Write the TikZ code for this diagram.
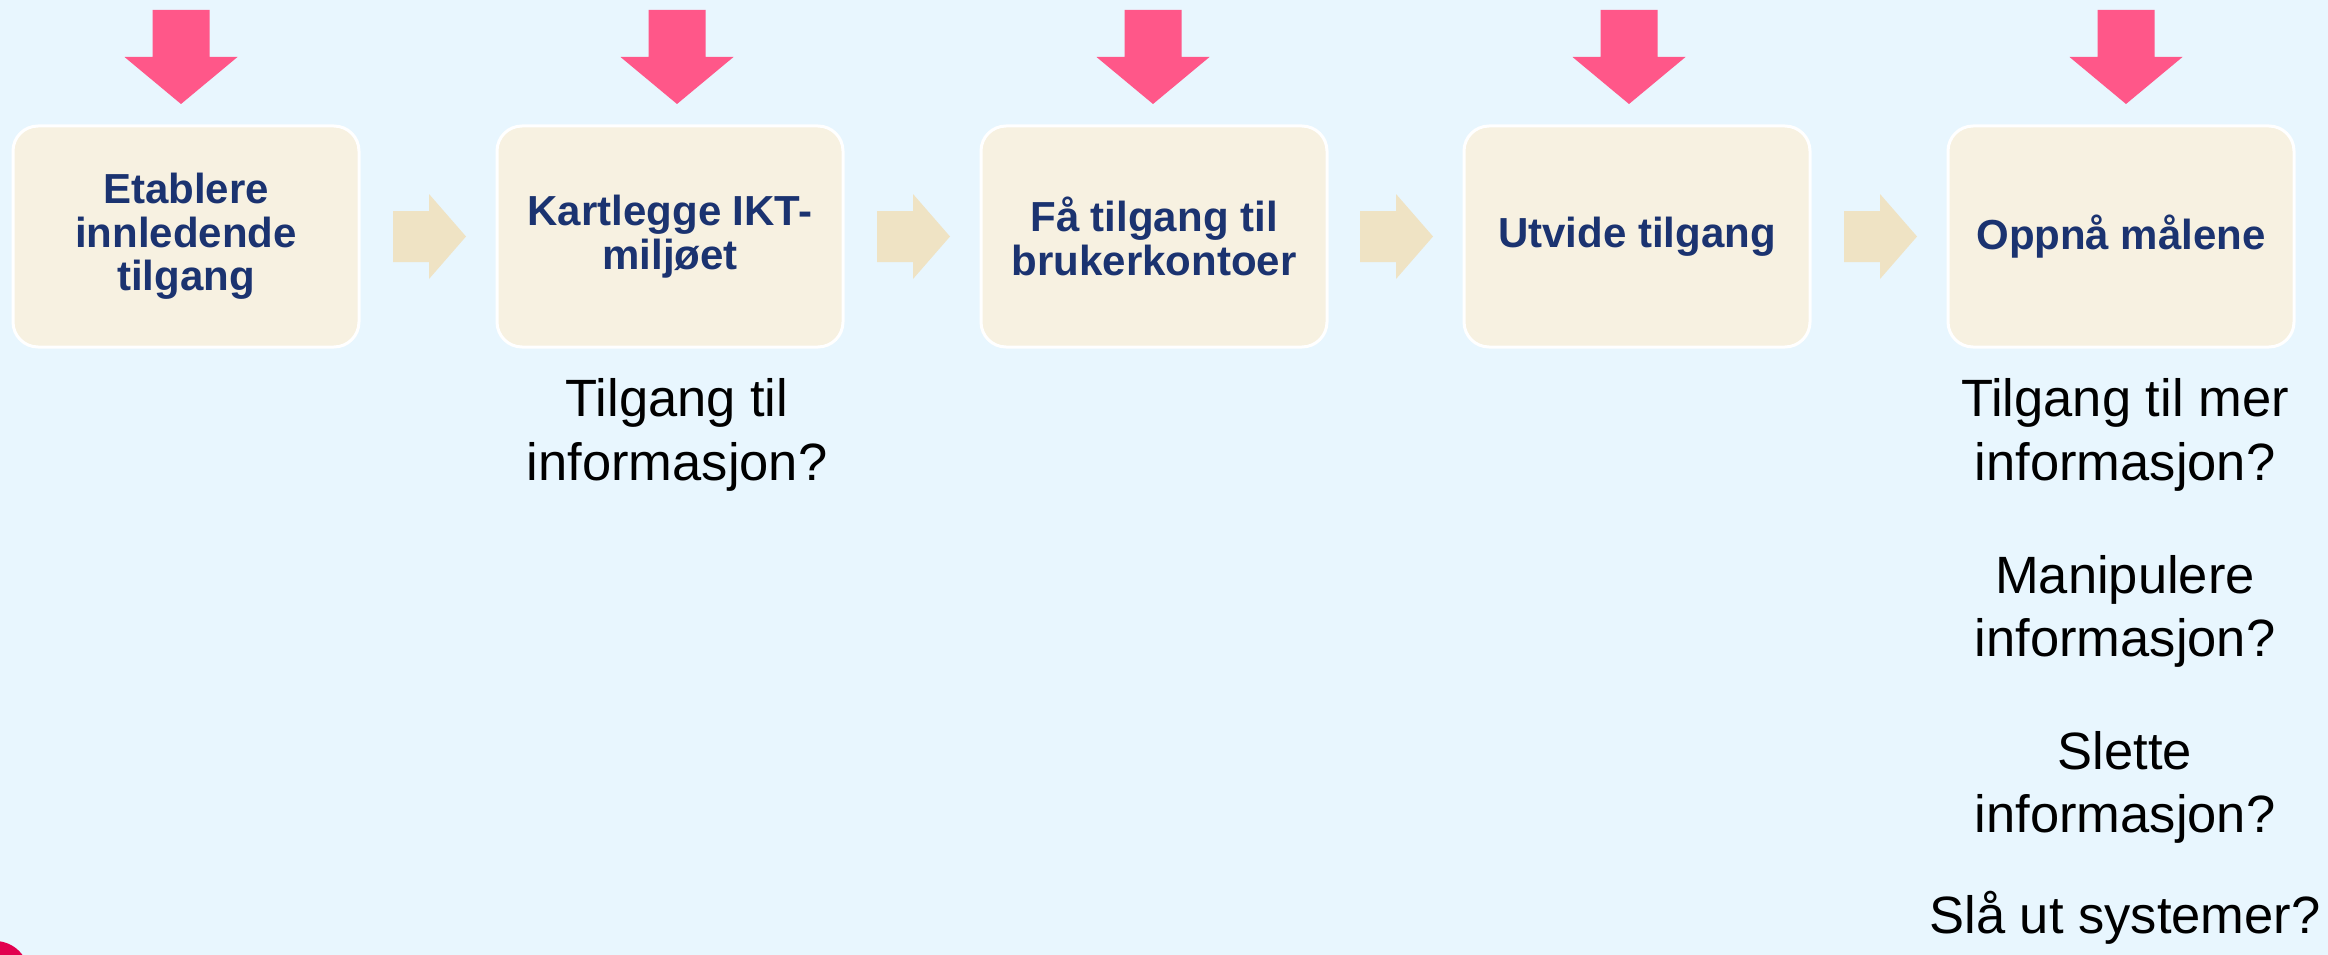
\documentclass[tikz,border=0pt]{standalone}
\usepackage{fontspec}
\setmainfont{Liberation Sans}
\definecolor{bgc}{RGB}{232,246,254}
\definecolor{boxc}{RGB}{247,241,225}
\definecolor{chevc}{RGB}{239,227,196}
\definecolor{pinkc}{RGB}{255,87,137}
\definecolor{titlec}{RGB}{27,51,112}
\definecolor{dotc}{RGB}{226,0,79}
\tikzset{
  stepbox/.style={draw=white, line width=3pt, fill=boxc, rounded corners=25pt,
    minimum width=346pt, minimum height=221pt, inner sep=0pt,
    align=center, text=titlec, font=\fontsize{42}{43.5}\selectfont\bfseries},
  qtext/.style={anchor=base, inner sep=0pt, text=black, font=\fontsize{52.5}{64}\selectfont},
  pinkarrow/.style={fill=pinkc, draw=none},
  chevron/.style={fill=chevc, draw=none}
}
\begin{document}
\begin{tikzpicture}[x=1pt,y=-1pt]
\fill[bgc] (0,0) rectangle (2328,955);
\useasboundingbox (0,0) rectangle (2328,955);
\begin{scope}
\clip (0,0) rectangle (2328,955);
\fill[dotc] (-5,975) circle (34);
\end{scope}

% boxes
\node[stepbox] (b1) at (186,236.5) {Etablere\\innledende\\tilgang};
\node[stepbox] (b2) at (670,236.5) {Kartlegge IKT-\\miljøet};
\node[stepbox] (b3) at (1154,236.5) {Få tilgang til\\brukerkontoer};
\node[stepbox] (b4) at (1637,236.5) {Utvide tilgang};
\node[stepbox] (b5) at (2121,236.5) {Oppnå målene};

% pink arrows
\foreach \cx in {181,677,1153,1629,2126}{
  \fill[pinkarrow] (\cx-28.5,10) -- (\cx+28.5,10) -- (\cx+28.5,57) -- (\cx+56.5,57)
    -- (\cx,104) -- (\cx-56.5,57) -- (\cx-28.5,57) -- cycle;
}

% chevrons
\foreach \lx in {393,877,1360,1844}{
  \fill[chevron] (\lx,211) -- (\lx+36,211) -- (\lx+36,194) -- (\lx+73,236.5)
    -- (\lx+36,279) -- (\lx+36,262) -- (\lx,262) -- cycle;
}

% question texts
\node[qtext] (q1a) at (677,416) {Tilgang til};
\node[qtext] (q1b) at (677,480) {informasjon?};

\node[qtext] (q2a) at (2125,416) {Tilgang til mer};
\node[qtext] (q2b) at (2125,480) {informasjon?};
\node[qtext] (q3a) at (2125,593) {Manipulere};
\node[qtext] (q3b) at (2125,656) {informasjon?};
\node[qtext] (q4a) at (2125,769) {Slette};
\node[qtext] (q4b) at (2125,832) {informasjon?};
\node[qtext] (q5) at (2125,933) {Slå ut systemer?};
\end{tikzpicture}
\end{document}
